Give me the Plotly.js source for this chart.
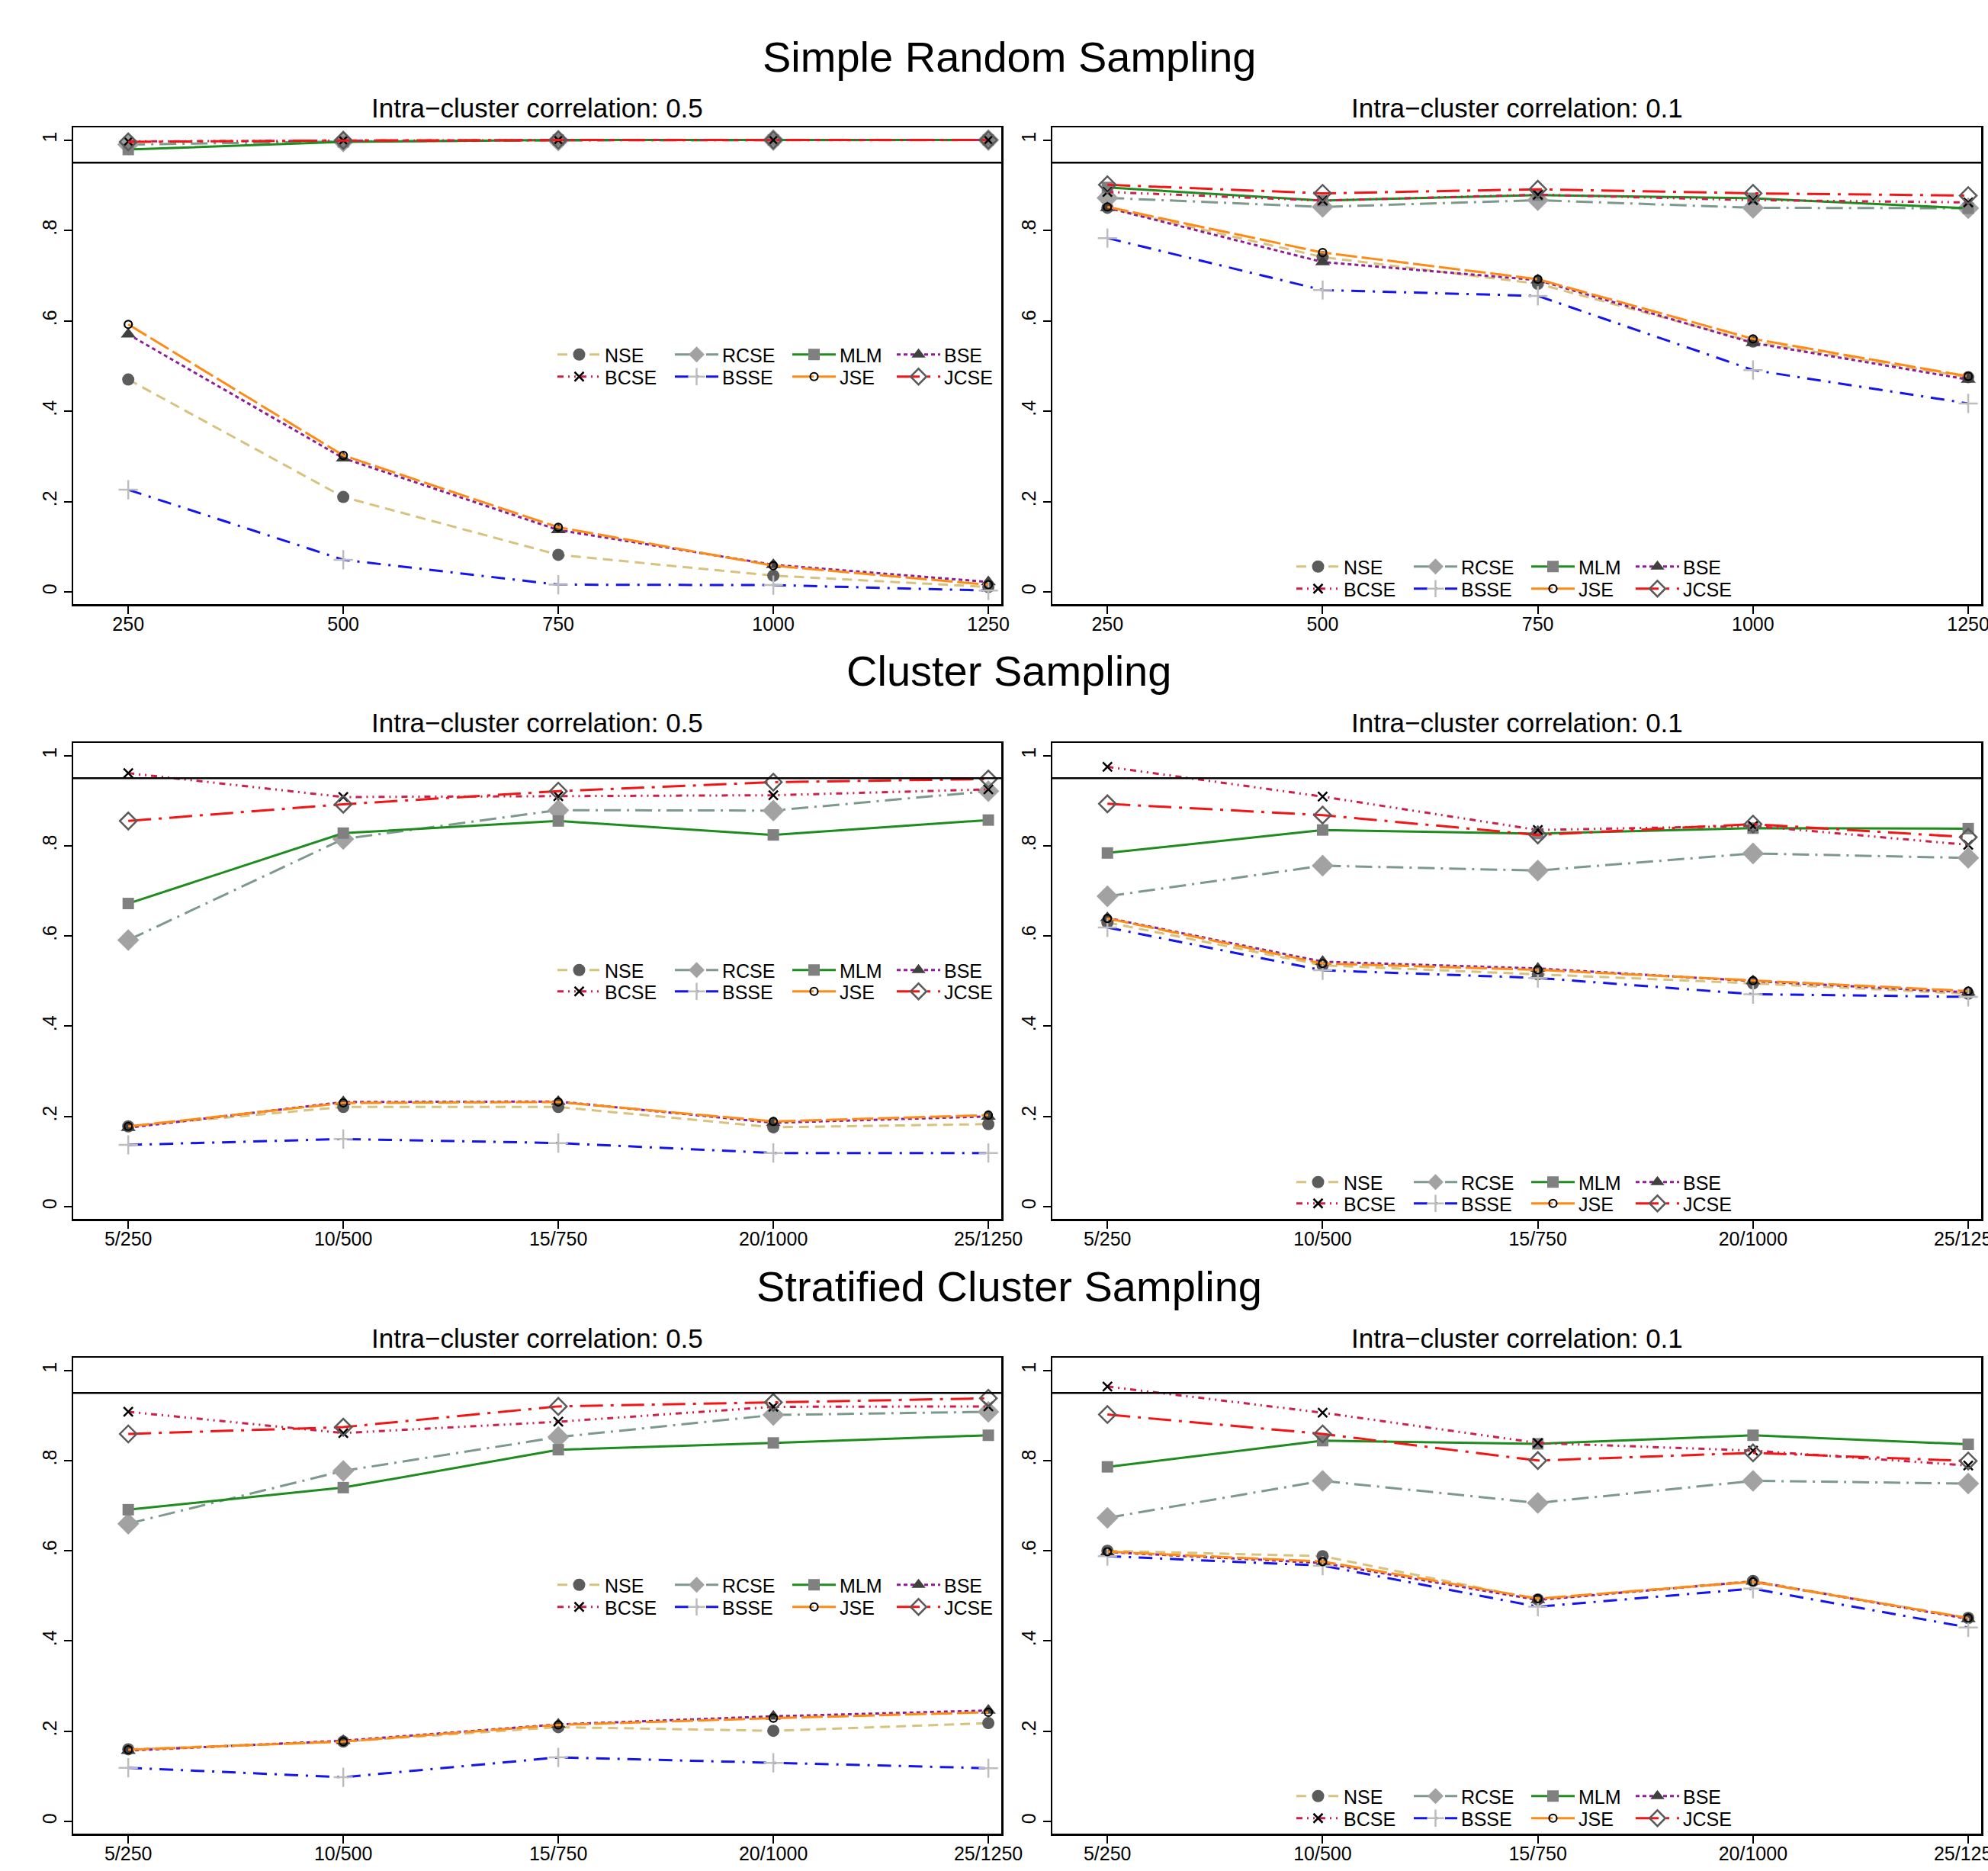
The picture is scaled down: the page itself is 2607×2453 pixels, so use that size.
<!DOCTYPE html>
<html><head><meta charset="utf-8">
<script src="https://cdn.plot.ly/plotly-3.0.1.min.js"></script>
<style>html,body{margin:0;padding:0;background:#fff}</style>
</head><body><div id="chart" style="width:2607px;height:2453px"></div>
<script>
// ---------- data ----------
const sampleSizes = [250, 500, 750, 1000, 1250];
const srsTickLabels = ['250', '500', '750', '1000', '1250'];
const clusterTickLabels = ['5/250', '10/500', '15/750', '20/1000', '25/1250'];
const estimators = ['NSE', 'RCSE', 'MLM', 'BSE', 'BCSE', 'BSSE', 'JSE', 'JCSE'];
const yTickVals = [0, 0.2, 0.4, 0.6, 0.8, 1];
const yTickLabels = ['0', '.2', '.4', '.6', '.8', '1'];
const nominalCoverage = 0.95;
const sectionTitles = ['Simple Random Sampling', 'Cluster Sampling', 'Stratified Cluster Sampling'];
const iccTitles = ['Intra\u2212cluster correlation: 0.5', 'Intra\u2212cluster correlation: 0.1'];

// Simple random sampling, ICC 0.5
const srsIcc05 = {
  NSE:  [0.470, 0.210, 0.082, 0.036, 0.011],
  RCSE: [0.990, 0.997, 0.999, 1.000, 1.000],
  MLM:  [0.979, 0.996, 1.000, 1.000, 1.000],
  BSE:  [0.570, 0.296, 0.137, 0.060, 0.022],
  BCSE: [0.997, 0.999, 1.000, 1.000, 1.000],
  BSSE: [0.226, 0.071, 0.016, 0.015, 0.003],
  JSE:  [0.592, 0.302, 0.143, 0.058, 0.016],
  JCSE: [0.996, 0.999, 1.000, 1.000, 1.000]
};
// Simple random sampling, ICC 0.1
const srsIcc01 = {
  NSE:  [0.850, 0.741, 0.682, 0.554, 0.475],
  RCSE: [0.872, 0.852, 0.867, 0.850, 0.849],
  MLM:  [0.895, 0.866, 0.878, 0.871, 0.849],
  BSE:  [0.850, 0.730, 0.690, 0.551, 0.470],
  BCSE: [0.885, 0.866, 0.879, 0.867, 0.862],
  BSSE: [0.783, 0.668, 0.655, 0.491, 0.417],
  JSE:  [0.852, 0.751, 0.692, 0.560, 0.477],
  JCSE: [0.901, 0.882, 0.891, 0.882, 0.877]
};
// Cluster sampling, ICC 0.5
const csIcc05 = {
  NSE:  [0.178, 0.221, 0.221, 0.176, 0.183],
  RCSE: [0.591, 0.815, 0.879, 0.878, 0.921],
  MLM:  [0.672, 0.828, 0.855, 0.824, 0.857],
  BSE:  [0.175, 0.232, 0.233, 0.186, 0.200],
  BCSE: [0.961, 0.908, 0.910, 0.912, 0.925],
  BSSE: [0.137, 0.150, 0.141, 0.119, 0.119],
  JSE:  [0.178, 0.230, 0.232, 0.189, 0.203],
  JCSE: [0.855, 0.892, 0.921, 0.941, 0.948]
};
// Cluster sampling, ICC 0.1
const csIcc01 = {
  NSE:  [0.630, 0.535, 0.515, 0.495, 0.472],
  RCSE: [0.688, 0.756, 0.745, 0.783, 0.773],
  MLM:  [0.784, 0.835, 0.827, 0.839, 0.838],
  BSE:  [0.640, 0.543, 0.528, 0.500, 0.475],
  BCSE: [0.975, 0.909, 0.835, 0.844, 0.802],
  BSSE: [0.619, 0.524, 0.507, 0.471, 0.465],
  JSE:  [0.639, 0.539, 0.525, 0.501, 0.478],
  JCSE: [0.893, 0.868, 0.824, 0.848, 0.819]
};
// Stratified cluster sampling, ICC 0.5
const scsIcc05 = {
  NSE:  [0.160, 0.177, 0.209, 0.201, 0.218],
  RCSE: [0.660, 0.777, 0.852, 0.901, 0.908],
  MLM:  [0.691, 0.740, 0.824, 0.839, 0.856],
  BSE:  [0.157, 0.179, 0.215, 0.233, 0.246],
  BCSE: [0.908, 0.861, 0.886, 0.919, 0.920],
  BSSE: [0.119, 0.098, 0.142, 0.130, 0.118],
  JSE:  [0.159, 0.177, 0.214, 0.229, 0.242],
  JCSE: [0.859, 0.874, 0.920, 0.929, 0.938]
};
// Stratified cluster sampling, ICC 0.1
const scsIcc01 = {
  NSE:  [0.600, 0.588, 0.492, 0.533, 0.451],
  RCSE: [0.673, 0.755, 0.706, 0.755, 0.749],
  MLM:  [0.786, 0.844, 0.837, 0.856, 0.836],
  BSE:  [0.597, 0.573, 0.491, 0.532, 0.449],
  BCSE: [0.964, 0.906, 0.839, 0.822, 0.789],
  BSSE: [0.588, 0.567, 0.476, 0.516, 0.430],
  JSE:  [0.598, 0.576, 0.494, 0.531, 0.451],
  JCSE: [0.902, 0.859, 0.800, 0.817, 0.799]
};

// ---------- styles ----------
const W = 2607, H = 2453;
const FONT = 'Liberation Sans, Arial, Helvetica, sans-serif';
const styles = {
  NSE:  {color: '#D8C27E', dash: '13px,8px', symbol: 'circle', size: 16, fill: '#5c5c5c'},
  RCSE: {color: '#7C998C', dash: '22px,8px,3px,8px', symbol: 'diamond', size: 22, fill: '#a2a2a2'},
  MLM:  {color: '#1E8C1E', dash: 'solid', symbol: 'square', size: 15, fill: '#808080'},
  BSE:  {color: '#8E1C96', dash: '5px,4px', symbol: 'triangle-up', size: 17, fill: '#404040'},
  BCSE: {color: '#CC1F4A', dash: '8px,6px,2px,6px,2px,6px', symbol: 'x-thin-open', size: 12, edge: '#000000'},
  BSSE: {color: '#1414F0', dash: '18px,10px,3px,10px', symbol: 'cross-thin-open', size: 18, edge: '#bdbdbd'},
  JSE:  {color: '#FF8A14', dash: '28px,6px', symbol: 'circle-open', size: 10, edge: '#000000'},
  JCSE: {color: '#F41414', dash: '30px,10px,4px,10px', symbol: 'diamond-open', size: 17, edge: '#5a5a5a'}
};
// legend column width per estimator (px of text slot)
const legendColWidth = {NSE: 82, RCSE: 82, MLM: 65, BSE: 65, BCSE: 82, BSSE: 82, JSE: 65, JCSE: 65};
const legendRow2 = ['BCSE', 'BSSE', 'JSE', 'JCSE'];

const panels = [
  {data: srsIcc05, ticks: srsTickLabels, leg: [726, 465, 494]},
  {data: srsIcc01, ticks: srsTickLabels, leg: [1695, 743, 772]},
  {data: csIcc05, ticks: clusterTickLabels, leg: [726, 1272, 1300]},
  {data: csIcc01, ticks: clusterTickLabels, leg: [1695, 1550, 1578]},
  {data: scsIcc05, ticks: clusterTickLabels, leg: [726, 2078, 2107]},
  {data: scsIcc01, ticks: clusterTickLabels, leg: [1695, 2355, 2384]}
];
// pixel geometry of plot areas
const colX = [[96, 1313], [1380, 2598]];
const rowY = [[167, 792], [974, 1598], [1780, 2404]];
const px = v => v / W;
const py = v => 1 - v / H;

const traces = [];
const layout = {
  width: W, height: H,
  margin: {l: 0, r: 0, t: 0, b: 0},
  paper_bgcolor: '#ffffff', plot_bgcolor: '#ffffff',
  font: {family: FONT, color: '#000000', size: 25},
  showlegend: true,
  shapes: [], annotations: []
};

panels.forEach((p, i) => {
  const row = Math.floor(i / 2), col = i % 2;
  const sfx = i === 0 ? '' : String(i + 1);
  const xa = 'x' + sfx, ya = 'y' + sfx;
  const legA = 'legend' + (2 * i === 0 ? '' : String(2 * i + 1));
  const legB = 'legend' + String(2 * i + 2);
  estimators.forEach(name => {
    const s = styles[name];
    const marker = {symbol: s.symbol, size: s.size};
    if (s.fill) { marker.color = s.fill; marker.line = {width: 0}; }
    else { marker.color = s.edge; marker.line = {color: s.edge, width: name === 'JSE' ? 2.2 : 2.5}; }
    traces.push({
      type: 'scatter', mode: 'lines+markers', name: name,
      x: sampleSizes, y: p.data[name],
      xaxis: xa, yaxis: ya,
      line: {color: s.color, width: 3, dash: s.dash},
      marker: marker,
      legend: legendRow2.includes(name) ? legB : legA,
      legendwidth: legendColWidth[name],
      hoverinfo: 'x+y+name'
    });
  });
  layout['xaxis' + sfx] = {
    domain: [px(colX[col][0]), px(colX[col][1])],
    anchor: ya, range: [186, 1265],
    tickmode: 'array', tickvals: sampleSizes, ticktext: p.ticks,
    ticks: 'outside', ticklen: 10, tickwidth: 2, tickcolor: '#000',
    ticklabeloverflow: 'allow', ticklabelstandoff: -8,
    showline: true, linecolor: '#000', linewidth: 2.5, mirror: true,
    showgrid: false, zeroline: false,
    tickfont: {size: 25, family: FONT, color: '#000'}
  };
  layout['yaxis' + sfx] = {
    domain: [py(rowY[row][1]), py(rowY[row][0])],
    anchor: xa, range: [-0.027, 1.028],
    tickmode: 'array', tickvals: yTickVals, ticktext: yTickLabels,
    tickangle: -90,
    ticks: 'outside', ticklen: 10, tickwidth: 2, tickcolor: '#000',
    showline: true, linecolor: '#000', linewidth: 2.5, mirror: true,
    showgrid: false, zeroline: false,
    tickfont: {size: 25, family: FONT, color: '#000'}
  };
  layout.shapes.push({
    type: 'line', xref: xa + ' domain', x0: 0, x1: 1,
    yref: ya, y0: nominalCoverage, y1: nominalCoverage,
    line: {color: '#000', width: 2.5}
  });
  const legBase = {
    orientation: 'h', xanchor: 'left', yanchor: 'middle',
    x: px(p.leg[0]), bgcolor: 'rgba(0,0,0,0)', borderwidth: 0,
    itemwidth: 57, font: {size: 25, family: FONT, color: '#000'},
    traceorder: 'normal', itemclick: false, itemdoubleclick: false
  };
  layout[legA] = Object.assign({}, legBase, {y: py(p.leg[1])});
  layout[legB] = Object.assign({}, legBase, {y: py(p.leg[2])});
  // subtitle
  layout.annotations.push({
    text: iccTitles[col], xref: 'paper', yref: 'paper',
    x: px((colX[col][0] + colX[col][1]) / 2), y: py(rowY[row][0] - 26),
    xanchor: 'center', yanchor: 'middle', showarrow: false,
    font: {size: 35, family: FONT, color: '#000'}
  });
});

const sectionY = [75, 880, 1686];
sectionTitles.forEach((t, r) => {
  layout.annotations.push({
    text: t, xref: 'paper', yref: 'paper', x: px(1323), y: py(sectionY[r]),
    xanchor: 'center', yanchor: 'middle', showarrow: false,
    font: {size: 56, family: FONT, color: '#000'}
  });
});

Plotly.newPlot('chart', traces, layout, {displayModeBar: false, staticPlot: true});
</script>
</body></html>
